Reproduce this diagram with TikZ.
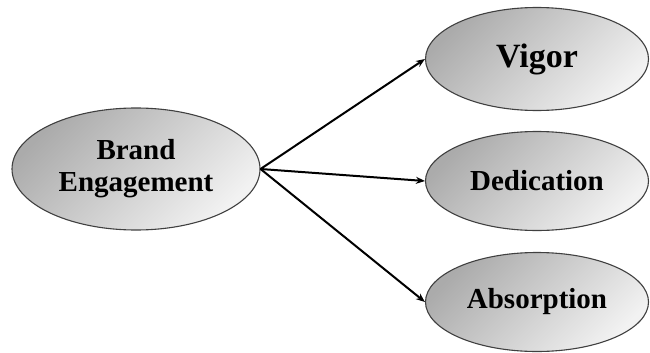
\documentclass[tikz,border=0pt]{standalone}
\usepackage{fontspec}
\setmainfont{Liberation Serif}
\usetikzlibrary{shapes.geometric,arrows.meta}
\tikzset{
  oval/.style={ellipse, draw=black!75, line width=1.1pt, inner sep=0pt,
    top color=black!33, bottom color=black!5, shading angle=45,
    font=\bfseries\fontsize{29}{32}\selectfont, align=center},
  link/.style={line width=2pt, -{Stealth[length=9pt,width=7pt]}}
}
\begin{document}
\begin{tikzpicture}[x=1pt,y=-1pt]
\useasboundingbox (0,0) rectangle (650,353);
\node[oval, minimum width=248pt, minimum height=122pt] (be) at (136,169) {Brand\\Engagement};
\node[oval, minimum width=223pt, minimum height=103pt, font=\bfseries\fontsize{34}{38}\selectfont] (vig) at (537,59) {Vigor};
\node[oval, minimum width=223pt, minimum height=99pt] (ded) at (537,181) {Dedication};
\node[oval, minimum width=223pt, minimum height=99pt] (abs) at (537,302) {Absorption};
\draw[link] (be.east) -- (vig.west);
\draw[link] (be.east) -- (ded.west);
\draw[link] (be.east) -- (abs.west);
\end{tikzpicture}
\end{document}
